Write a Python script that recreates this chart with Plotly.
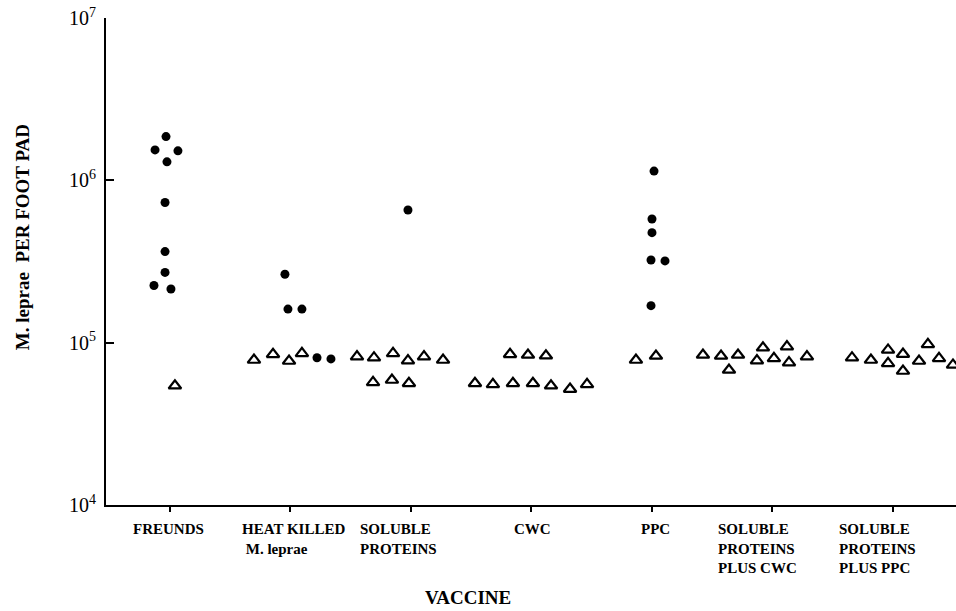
import plotly.graph_objects as go

# ---------------- data ----------------
vaccines = ["FREUNDS", "HEAT KILLED<br>&nbsp;M. leprae", "SOLUBLE<br>PROTEINS", "CWC", "PPC",
            "SOLUBLE<br>PROTEINS<br>PLUS CWC", "SOLUBLE<br>PROTEINS<br>PLUS PPC"]

# filled circles (x = vaccine index + horizontal scatter, y = M. leprae per foot pad)
dot_x = [-0.033, -0.124, 0.066, -0.025, -0.041, -0.041, -0.041, -0.133, 0.008,   # Freunds
         0.954, 0.979, 1.095, 1.220, 1.336,                                         # Heat killed
         1.975,                                                                     # Soluble proteins
         4.017, 4.000, 4.000, 3.992, 4.108, 3.992]                                  # PPC
dot_y = [1.86e6, 1.54e6, 1.52e6, 1.30e6, 7.3e5, 3.64e5, 2.71e5, 2.25e5, 2.14e5,
         2.64e5, 1.61e5, 1.61e5, 8.08e4, 7.94e4,
         6.57e5,
         1.14e6, 5.78e5, 4.76e5, 3.23e5, 3.19e5, 1.69e5]

# open triangles
tri_x = [0.041,                                                                     # Freunds
         0.697, 0.855, 0.988, 1.095,                                                # Heat killed
         1.552, 1.693, 1.851, 1.975, 2.108, 2.266, 1.685, 1.842, 1.983,             # Soluble proteins
         2.822, 2.971, 3.120, 2.531, 2.680, 2.846, 3.012, 3.162, 3.320, 3.461,      # CWC
         3.867, 4.033,                                                              # PPC
         4.423, 4.573, 4.714, 4.639, 4.871, 4.921, 5.012, 5.120, 5.137, 5.286,      # SP + CWC
         5.660, 5.817, 5.959, 5.959, 6.083, 6.083, 6.216, 6.290, 6.382, 6.498]      # SP + PPC
tri_y = [5.43e4,
         7.82e4, 8.48e4, 7.71e4, 8.60e4,
         8.20e4, 8.08e4, 8.60e4, 7.75e4, 8.20e4, 7.82e4, 5.70e4, 5.89e4, 5.62e4,
         8.48e4, 8.40e4, 8.31e4, 5.62e4, 5.54e4, 5.62e4, 5.62e4, 5.43e4, 5.18e4, 5.54e4,
         7.82e4, 8.28e4,
         8.40e4, 8.28e4, 8.40e4, 6.79e4, 7.75e4, 9.31e4, 8.01e4, 9.45e4, 7.53e4, 8.20e4,
         8.08e4, 7.82e4, 9.02e4, 7.46e4, 8.51e4, 6.69e4, 7.71e4, 9.77e4, 8.01e4, 7.29e4]

ytick_vals = [1e4, 1e5, 1e6, 1e7]
ytick_text = ["10<sup>4</sup>", "10<sup>5</sup>", "10<sup>6</sup>", "10<sup>7</sup>"]

# ---------------- figure ----------------
FONT = "Liberation Serif"
fig = go.Figure()
fig.add_trace(go.Scatter(x=dot_x, y=dot_y, mode="markers",
                         marker=dict(symbol="circle", size=9, color="black"),
                         showlegend=False))
fig.add_trace(go.Scatter(x=tri_x, y=tri_y, mode="markers",
                         marker=dict(symbol="triangle-up-open", size=11, color="black",
                                     line=dict(width=2.2, color="black")),
                         showlegend=False))

fig.update_layout(
    width=956, height=611,
    margin=dict(l=106, r=0, t=18, b=106),
    plot_bgcolor="white", paper_bgcolor="white",
    font=dict(family=FONT, color="black"),
    xaxis=dict(range=[-0.531, 6.523], showgrid=False, zeroline=False,
               showline=True, linecolor="black", linewidth=2,
               tickvals=list(range(len(vaccines))), showticklabels=False,
               ticks="outside", ticklen=5, tickwidth=1.5, tickcolor="black"),
    yaxis=dict(type="log", range=[4, 7], showgrid=False, zeroline=False,
               showline=True, linecolor="black", linewidth=2,
               tickvals=ytick_vals, ticktext=ytick_text,
               ticks="inside", ticklen=8, tickwidth=2, tickcolor="black",
               ticklabelstandoff=4,
               tickfont=dict(family=FONT, size=20, color="black")),
)

label_shift = [-1, 3, -12, 1, 4, -15, -15]
for i, lab in enumerate(vaccines):
    fig.add_annotation(x=i, y=0, xref="x", yref="paper", text=lab, showarrow=False,
                       xanchor="center", yanchor="top", align="left",
                       xshift=label_shift[i], yshift=-14,
                       font=dict(family=FONT, size=15, color="black", weight="bold"))

fig.add_annotation(x=2.473, y=0, xref="x", yref="paper", text="VACCINE", showarrow=False,
                   xanchor="center", yanchor="middle", yshift=-92,
                   font=dict(family=FONT, size=19, color="black", weight="bold"))
fig.add_annotation(x=-0.0988, y=0.55, xref="paper", yref="paper",
                   text="M. leprae&nbsp;&nbsp;PER FOOT PAD", showarrow=False, textangle=-90,
                   xanchor="center", yanchor="middle",
                   font=dict(family=FONT, size=19, color="black", weight="bold"))

fig.write_html("out.html")
